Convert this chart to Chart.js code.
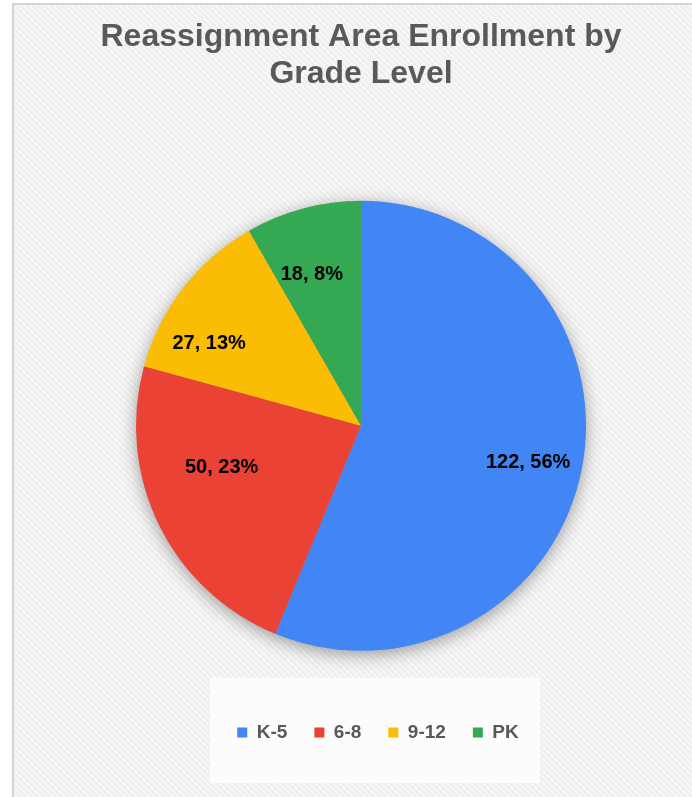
<!DOCTYPE html>
<html>
<head>
<meta charset="utf-8">
<script src="https://cdn.jsdelivr.net/npm/chart.js@4.4.0/dist/chart.umd.min.js"></script>
<style>
  html, body { margin: 0; padding: 0; background: #fff; }
  #wrap { width: 692px; height: 797px; }
</style>
</head>
<body>
<div id="wrap"><canvas id="gradeChart"></canvas></div>
<script>
const grades = ['K-5', '6-8', '9-12', 'PK'];
const enrollment = [122, 50, 27, 18];
const percentLabels = ['56%', '23%', '13%', '8%'];
const sliceColors = ['#4285f4', '#ea4335', '#fbbc04', '#34a853'];

// where each data label sits: fraction of radius, nudge from mid-angle (deg)
const labelPlacement = [
    { f: 0.76, da: 1 },
    { f: 0.645, da: 10 },
    { f: 0.77, da: -9 },
    { f: 0.71, da: -3 }
];

function stripePattern(ctx) {
    const c = document.createElement('canvas');
    c.width = 6; c.height = 6;
    const p = c.getContext('2d');
    p.fillStyle = '#efefef';
    p.fillRect(0, 0, 6, 6);
    p.strokeStyle = 'rgba(255,255,255,0.65)';
    p.lineWidth = 1.5;
    p.beginPath();
    p.moveTo(-1, -1); p.lineTo(7, 7);
    p.moveTo(-1, 5); p.lineTo(1, 7);
    p.moveTo(5, -1); p.lineTo(7, 1);
    p.stroke();
    return ctx.createPattern(c, 'repeat');
}

const backdrop = {
    id: 'backdrop',
    afterLayout(chart) {
        // legend sits in its own box, a bit right of the chart centre
        chart.legend.left += 17;
        chart.legend.right += 17;
    },
    beforeDraw(chart) {
        const ctx = chart.ctx;
        ctx.save();
        ctx.fillStyle = '#fff';
        ctx.fillRect(0, 0, chart.width, chart.height);
        ctx.fillStyle = stripePattern(ctx);
        ctx.fillRect(13, 4, chart.width, chart.height);
        ctx.strokeStyle = '#d4d4d4';
        ctx.lineWidth = 2;
        ctx.beginPath();
        ctx.moveTo(13, chart.height);
        ctx.lineTo(13, 4);
        ctx.lineTo(chart.width, 4);
        ctx.stroke();
        ctx.fillStyle = '#fcfcfc';
        ctx.fillRect(210, 678, 330, 105);
        ctx.restore();
    },
    beforeDatasetsDraw(chart) {
        const arc = chart.getDatasetMeta(0).data[0];
        const ctx = chart.ctx;
        ctx.save();
        ctx.shadowColor = 'rgba(0,0,0,0.4)';
        ctx.shadowBlur = 18;
        ctx.shadowOffsetY = 4;
        ctx.fillStyle = '#999';
        ctx.beginPath();
        ctx.arc(arc.x, arc.y, arc.outerRadius - 1, 0, Math.PI * 2);
        ctx.fill();
        ctx.restore();
    },
    afterDatasetsDraw(chart) {
        const ctx = chart.ctx;
        const meta = chart.getDatasetMeta(0);
        ctx.save();
        ctx.font = 'bold 20px "Liberation Sans", Arial, sans-serif';
        ctx.fillStyle = '#000';
        ctx.textAlign = 'center';
        ctx.textBaseline = 'middle';
        meta.data.forEach((arc, i) => {
            const p = labelPlacement[i];
            const mid = (arc.startAngle + arc.endAngle) / 2 + p.da * Math.PI / 180;
            const r = arc.outerRadius * p.f;
            const text = enrollment[i] + ', ' + percentLabels[i];
            ctx.fillText(text, arc.x + Math.cos(mid) * r, arc.y + Math.sin(mid) * r + 1);
        });
        ctx.restore();
    }
};

new Chart(document.getElementById('gradeChart'), {
    type: 'pie',
    data: {
        labels: grades,
        datasets: [{
            data: enrollment,
            backgroundColor: sliceColors,
            borderWidth: 0,
            radius: 225
        }]
    },
    options: {
        responsive: true,
        maintainAspectRatio: false,
        animation: false,
        events: [],
        layout: { padding: { left: 30, right: 0, top: 0, bottom: 45 } },
        plugins: {
            title: {
                display: true,
                text: ['Reassignment Area Enrollment by', 'Grade Level'],
                color: '#595959',
                font: { family: '"Liberation Sans", Arial, sans-serif', size: 32, weight: 'bold', lineHeight: 1.15 },
                padding: { top: 19, bottom: 63 }
            },
            legend: {
                position: 'bottom',
                labels: {
                    boxWidth: 10,
                    boxHeight: 10,
                    padding: 27,
                    color: '#595959',
                    font: { family: '"Liberation Sans", Arial, sans-serif', size: 19, weight: 'bold' }
                }
            },
            tooltip: { enabled: false }
        }
    },
    plugins: [backdrop]
});
</script>
</body>
</html>
